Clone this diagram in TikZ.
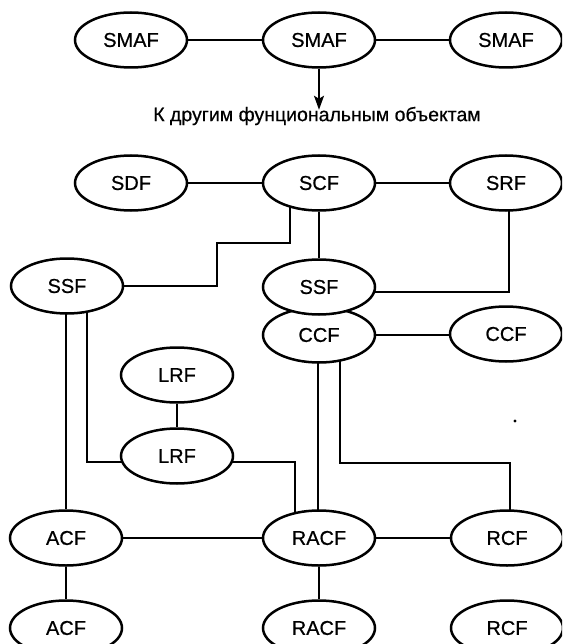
\documentclass[tikz,border=0pt]{standalone}
\usepackage{fontspec}
\setmainfont{Liberation Sans}[FakeBold=0.6]
\usetikzlibrary{arrows.meta,backgrounds,calc,shapes.geometric}
\begin{document}
\begin{tikzpicture}[x=1pt,y=-1pt,
  fn/.style={ellipse, draw, line width=2.5pt, fill=white, minimum width=112pt, minimum height=55pt, inner sep=0pt, font=\fontsize{20}{20}\selectfont},
  conn/.style={line width=1.7pt},
  lbl/.style={inner sep=0pt, font=\fontsize{19.5}{20}\selectfont}]
\clip (0,0) rectangle (562,644);
\useasboundingbox (0,0) rectangle (562,644);
% top
\node[fn] (smaf1) at (131,40) {SMAF};
\node[fn] (smaf2) at (319,40) {SMAF};
\node[fn] (smaf3) at (506,40) {SMAF};
\node[lbl] (txt) at (317,116) {К другим фунциональным объектам};
% second group
\node[fn] (sdf) at (131,183) {SDF};
\node[fn] (scf) at (319,183) {SCF};
\node[fn] (srf) at (506,183) {SRF};
\node[fn] (ssfL) at (67,286) {SSF};
\node[fn] (ccfM) at (319,335) {CCF};
\node[fn] (ssfM) at (319,287) {SSF};
\node[fn] (ccfR) at (506,334) {CCF};
\node[fn] (lrf1) at (177,375) {LRF};
\node[fn] (lrf2) at (177,456) {LRF};
\node[fn] (acf1) at (66,538) {ACF};
\node[fn] (racf1) at (319,538) {RACF};
\node[fn] (rcf1) at (507,538) {RCF};
\node[fn] (acf2) at (66,628) {ACF};
\node[fn] (racf2) at (319,628) {RACF};
\node[fn] (rcf2) at (507,628) {RCF};
\fill (515,421) circle (1.6);
\draw[conn,-{Stealth[length=14pt,width=10pt,inset=3pt]}] (smaf2.south) -- ($(smaf2.south)+(0,41)$);
\begin{pgfonlayer}{background}
\draw[conn] (smaf1) -- (smaf2) -- (smaf3);
\draw[conn] (sdf) -- (scf) -- (srf);
\draw[conn] ($(scf)+(-29,0)$) -- ++(0,60) -| ($(ssfL)+(150,0)$) -- (ssfL);
\draw[conn] (scf) -- (ssfM);
\draw[conn] ($(srf)+(3,0)$) |- ($(ssfM)+(0,5)$);
\draw[conn] (ccfM) -- (ccfM -| ccfR);
\draw[conn] (lrf1) -- (lrf2);
\draw[conn] (acf1 |- ssfL) -- (acf1);
\draw[conn] ($(ssfL)+(20,0)$) |- ($(lrf2)+(0,6)$);
\draw[conn] ($(lrf2)+(0,6)$) -| ($(racf1)+(-24,0)$);
\draw[conn] ($(ccfM)+(-1,0)$) -- ($(racf1)+(-1,0)$);
\draw[conn] ($(ccfM)+(21,0)$) |- ($(rcf1)+(3,-75)$) -- ($(rcf1)+(3,0)$);
\draw[conn] (acf1) -- (racf1) -- (rcf1);
\draw[conn] (acf1) -- (acf2);
\draw[conn] (racf1) -- (racf2);
\end{pgfonlayer}
\end{tikzpicture}
\end{document}
